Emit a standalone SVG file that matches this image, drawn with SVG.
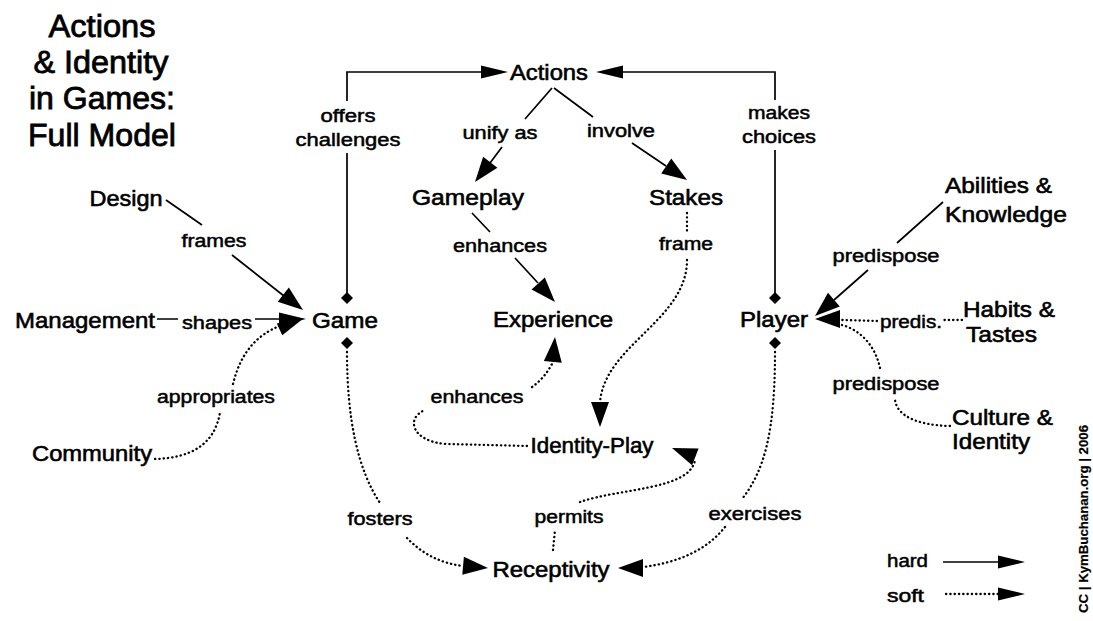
<svg xmlns="http://www.w3.org/2000/svg" xmlns:xlink="http://www.w3.org/1999/xlink" width="1093" height="621" viewBox="0 0 1093 621">
<style>
text{font-family:"Liberation Sans",Arial,Helvetica,sans-serif;fill:#000;stroke:#000}
.title{font-size:31px;stroke-width:0.8}
.node{font-size:22px;stroke-width:0.6}
.lbl{font-size:18px;stroke-width:0.5}
.mid{text-anchor:middle}
.hard{fill:none;stroke:#000;stroke-width:1.7}
.soft{fill:none;stroke:#000;stroke-width:2.3;stroke-dasharray:0.3 4;stroke-linecap:round}
.head{fill:#000}
</style>
<defs>
<path id="slim" d="M0,0 L-27,-6.5 L-27,6.5 Z"/>
<path id="big" d="M0,0 L-25,-9 L-25,9 Z"/>
<path id="dia" d="M0,-6 L6,0 L0,6 L-6,0 Z"/>
</defs>
<rect width="1093" height="621" fill="#fff"/>

<g id="title">
<text class="title mid" x="102" y="37" textLength="107" lengthAdjust="spacingAndGlyphs">Actions</text>
<text class="title mid" x="101" y="73" textLength="135" lengthAdjust="spacingAndGlyphs">&amp; Identity</text>
<text class="title mid" x="102" y="109" textLength="146" lengthAdjust="spacingAndGlyphs">in Games:</text>
<text class="title mid" x="102" y="146" textLength="148" lengthAdjust="spacingAndGlyphs">Full Model</text>
</g>

<g id="connectors">
<!-- Game -> Actions (offers challenges) -->
<path class="hard" d="M347,293 V153 M347,101 V72 H482"/>
<use href="#slim" class="head" transform="translate(508,72)"/>
<text class="lbl mid" x="348" y="122" textLength="55" lengthAdjust="spacingAndGlyphs">offers</text>
<text class="lbl mid" x="348" y="146" textLength="105" lengthAdjust="spacingAndGlyphs">challenges</text>
<!-- Player -> Actions (makes choices) -->
<path class="hard" d="M775,293 V150 M775,100 V72 H618"/>
<use href="#slim" class="head" transform="translate(596,72) rotate(180)"/>
<text class="lbl mid" x="779" y="119" textLength="62" lengthAdjust="spacingAndGlyphs">makes</text>
<text class="lbl mid" x="779" y="143" textLength="74" lengthAdjust="spacingAndGlyphs">choices</text>
<!-- Actions -> Gameplay (unify as) -->
<path class="hard" d="M552,88 L525,119 M502,147 L490,163"/>
<use href="#big" class="head" transform="translate(475,182) rotate(127.6)"/>
<text class="lbl mid" x="500" y="139" textLength="75" lengthAdjust="spacingAndGlyphs">unify as</text>
<!-- Actions -> Stakes (involve) -->
<path class="hard" d="M554,88 L593,117 M632,143 L666,166"/>
<use href="#big" class="head" transform="translate(687,180) rotate(34)"/>
<text class="lbl mid" x="621" y="137" textLength="68" lengthAdjust="spacingAndGlyphs">involve</text>
<!-- Gameplay -> Experience (enhances) -->
<path class="hard" d="M472,213 L490,232 M515,258 L538,283"/>
<use href="#big" class="head" transform="translate(555,302) rotate(47.7)"/>
<text class="lbl mid" x="500" y="252" textLength="94" lengthAdjust="spacingAndGlyphs">enhances</text>
<!-- Design -> Game (frames) -->
<path class="hard" d="M166,200 L202,225 M232,255 L284,296"/>
<use href="#big" class="head" transform="translate(303,310) rotate(38)"/>
<text class="lbl mid" x="214" y="247" textLength="65" lengthAdjust="spacingAndGlyphs">frames</text>
<!-- Management -> Game (shapes) -->
<path class="hard" d="M157,319 H178 M255,319 H281"/>
<use href="#slim" class="head" transform="translate(306,319)"/>
<text class="lbl mid" x="217" y="329" textLength="70" lengthAdjust="spacingAndGlyphs">shapes</text>
<!-- Community -> Game (appropriates) -->
<path class="soft" d="M155,459 C190,458 215,445 220,412 M233,384 C240,355 255,335 282,325"/>
<use href="#slim" class="head" transform="translate(304,318) rotate(-25)"/>
<text class="lbl mid" x="216" y="403" textLength="118" lengthAdjust="spacingAndGlyphs">appropriates</text>
<!-- Abilities -> Player (predispose) -->
<path class="hard" d="M943,202 L897,243 M868,270 L834,300"/>
<use href="#big" class="head" transform="translate(815,316) rotate(139)"/>
<text class="lbl mid" x="886" y="262" textLength="107" lengthAdjust="spacingAndGlyphs">predispose</text>
<!-- Habits -> Player (predis.) -->
<path class="soft" d="M962,320 L944,320 M877,321 L842,320"/>
<use href="#big" class="head" transform="translate(815,319) rotate(180)"/>
<text class="lbl mid" x="911" y="328" textLength="62" lengthAdjust="spacingAndGlyphs">predis.</text>
<!-- Culture -> Player (predispose) -->
<path class="soft" d="M950,426 C915,425 897,415 895,400 M880,368 C875,345 860,330 842,325"/>
<text class="lbl mid" x="886" y="390" textLength="107" lengthAdjust="spacingAndGlyphs">predispose</text>
<!-- Stakes -> Identity-Play (frame) -->
<path class="soft" d="M687,213 L687,232 M687,260 C687,320 605,345 600,402"/>
<use href="#big" class="head" transform="translate(600,427) rotate(90)"/>
<text class="lbl mid" x="686" y="250" textLength="54" lengthAdjust="spacingAndGlyphs">frame</text>
<!-- Identity-Play -> Experience (enhances) -->
<path class="soft" d="M527,446 L447,444 C412,442 405,418 425,410 M532,387 Q545,378 553,362"/>
<use href="#big" class="head" transform="translate(555,337) rotate(-85)"/>
<text class="lbl mid" x="477" y="403" textLength="93" lengthAdjust="spacingAndGlyphs">enhances</text>
<!-- Receptivity -> Identity-Play (permits) -->
<path class="soft" d="M553,550 L555,530 M580,502 C620,488 690,490 695,460"/>
<use href="#big" class="head" transform="translate(672,448) rotate(-159)"/>
<text class="lbl mid" x="569" y="523" textLength="69" lengthAdjust="spacingAndGlyphs">permits</text>
<!-- Game -> Receptivity (fosters) -->
<path class="soft" d="M347,352 C347,420 358,470 380,503 M407,538 Q430,562 463,566"/>
<use href="#big" class="head" transform="translate(488,568) rotate(5)"/>
<text class="lbl mid" x="380" y="525" textLength="65" lengthAdjust="spacingAndGlyphs">fosters</text>
<!-- Player -> Receptivity (exercises) -->
<path class="soft" d="M775,352 C775,430 765,470 742,499 M725,527 C705,552 675,563 643,567"/>
<use href="#big" class="head" transform="translate(618,568) rotate(180)"/>
<text class="lbl mid" x="755" y="520" textLength="93" lengthAdjust="spacingAndGlyphs">exercises</text>
<!-- diamonds -->
<use href="#dia" class="head" transform="translate(347,298)"/>
<use href="#dia" class="head" transform="translate(347,343)"/>
<use href="#dia" class="head" transform="translate(775,298)"/>
<use href="#dia" class="head" transform="translate(775,343)"/>
</g>

<g id="node-actions"><text class="node mid" x="549" y="80" textLength="78" lengthAdjust="spacingAndGlyphs">Actions</text></g>
<g id="node-gameplay"><text class="node mid" x="468" y="205" textLength="112" lengthAdjust="spacingAndGlyphs">Gameplay</text></g>
<g id="node-stakes"><text class="node mid" x="686" y="205" textLength="74" lengthAdjust="spacingAndGlyphs">Stakes</text></g>
<g id="node-design"><text class="node mid" x="126" y="206" textLength="73" lengthAdjust="spacingAndGlyphs">Design</text></g>
<g id="node-abilities">
<text class="node" x="945" y="193" textLength="107" lengthAdjust="spacingAndGlyphs">Abilities &amp;</text>
<text class="node" x="945" y="222" textLength="122" lengthAdjust="spacingAndGlyphs">Knowledge</text>
</g>
<g id="node-management"><text class="node" x="15" y="328" textLength="140" lengthAdjust="spacingAndGlyphs">Management</text></g>
<g id="node-game"><text class="node mid" x="345" y="328" textLength="66" lengthAdjust="spacingAndGlyphs">Game</text></g>
<g id="node-experience"><text class="node mid" x="553" y="327" textLength="120" lengthAdjust="spacingAndGlyphs">Experience</text></g>
<g id="node-player"><text class="node mid" x="774" y="327" textLength="68" lengthAdjust="spacingAndGlyphs">Player</text></g>
<g id="node-habits">
<text class="node" x="963" y="317" textLength="92" lengthAdjust="spacingAndGlyphs">Habits &amp;</text>
<text class="node" x="966" y="342" textLength="71" lengthAdjust="spacingAndGlyphs">Tastes</text>
</g>
<g id="node-culture">
<text class="node" x="952" y="425" textLength="101" lengthAdjust="spacingAndGlyphs">Culture &amp;</text>
<text class="node" x="952" y="449" textLength="78" lengthAdjust="spacingAndGlyphs">Identity</text>
</g>
<g id="node-community"><text class="node" x="32" y="461" textLength="120" lengthAdjust="spacingAndGlyphs">Community</text></g>
<g id="node-identity-play"><text class="node mid" x="592" y="453" textLength="123" lengthAdjust="spacingAndGlyphs">Identity-Play</text></g>
<g id="node-receptivity"><text class="node mid" x="551" y="577" textLength="117" lengthAdjust="spacingAndGlyphs">Receptivity</text></g>

<g id="legend">
<text class="lbl" x="887" y="567" textLength="41" lengthAdjust="spacingAndGlyphs">hard</text>
<path class="hard" d="M943,562 H999"/>
<use href="#slim" class="head" transform="translate(1025,562)"/>
<text class="lbl" x="887" y="602" textLength="37" lengthAdjust="spacingAndGlyphs">soft</text>
<path class="soft" d="M946,594 H998"/>
<use href="#slim" class="head" transform="translate(1025,594)"/>
</g>

<g id="credit">
<text x="0" y="0" font-size="13" font-weight="bold" stroke-width="0.2" text-anchor="middle" transform="translate(1088,519) rotate(-90)" textLength="188" lengthAdjust="spacingAndGlyphs">CC | KymBuchanan.org | 2006</text>
</g>
</svg>
